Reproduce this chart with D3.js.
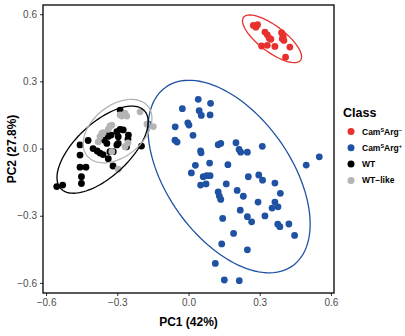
<!DOCTYPE html>
<html>
<head>
<meta charset="utf-8">
<script src="https://cdn.jsdelivr.net/npm/d3@7"></script>
<style>
  body { margin: 0; background: #fff; }
  text { font-family: "Liberation Sans", Arial, sans-serif; }
</style>
</head>
<body>
<div id="chart"></div>
<script>
// class names, in legend order
var CLASSES = ['CamSArg-', 'CamSArg+', 'WT', 'WT-like'];
var CLASS_COLORS = ['#e8302c', '#1f52a3', '#000000', '#b4b4b4'];

var X_TICKS = [-0.6, -0.3, 0.0, 0.3, 0.6];
var Y_TICKS = [-0.6, -0.3, 0.0, 0.3, 0.6];

// PC scores, [PC1, PC2]
var RED_POINTS = [
    [0.273, 0.550], [0.284, 0.542], [0.291, 0.553], [0.322, 0.520], [0.332, 0.508],
    [0.340, 0.493], [0.347, 0.488], [0.392, 0.517], [0.399, 0.502], [0.395, 0.490],
    [0.402, 0.483], [0.308, 0.458], [0.332, 0.461], [0.364, 0.456], [0.427, 0.453],
    [0.409, 0.408]
];
var BLUE_POINTS = [
    [0.041, 0.220], [0.093, 0.202], [-0.026, 0.178], [0.045, 0.169], [0.054, 0.148],
    [0.091, 0.150], [-0.003, 0.115], [0.002, 0.105], [-0.056, 0.097], [0.019, 0.059],
    [-0.057, 0.037], [-0.048, 0.029], [0.125, 0.017], [0.136, 0.023], [0.200, 0.026],
    [0.213, -0.004], [0.220, -0.016], [0.248, -0.016], [0.311, 0.010], [0.051, -0.011],
    [0.053, -0.019], [0.551, -0.037], [0.496, -0.074], [0.089, -0.065], [0.166, -0.072],
    [0.029, -0.075], [0.012, -0.109], [0.062, -0.126], [0.077, -0.121], [0.091, -0.121],
    [0.051, -0.163], [0.074, -0.158], [0.159, -0.158], [0.252, -0.126], [0.296, -0.118],
    [0.312, -0.141], [0.364, -0.154], [0.125, -0.194], [0.130, -0.212], [0.136, -0.227],
    [0.205, -0.187], [0.231, -0.213], [0.387, -0.200], [0.293, -0.239], [0.364, -0.239],
    [0.377, -0.260], [0.352, -0.266], [0.218, -0.275], [0.144, -0.312], [0.248, -0.304],
    [0.266, -0.327], [0.322, -0.301], [0.376, -0.338], [0.385, -0.349], [0.423, -0.337],
    [0.447, -0.388], [0.190, -0.379], [0.140, -0.426], [0.248, -0.452], [0.113, -0.513],
    [0.151, -0.587], [0.214, -0.590], [-0.168, 0.109]
];
var BLACK_POINTS = [
    [-0.555, -0.170], [-0.530, -0.163], [-0.451, -0.156], [-0.451, -0.126], [-0.457, -0.083],
    [-0.432, -0.083], [-0.457, -0.029], [-0.457, 0.016], [-0.423, 0.036], [-0.402, 0.000],
    [-0.385, -0.011], [-0.373, -0.020], [-0.360, -0.027], [-0.344, 0.068], [-0.338, 0.054],
    [-0.326, 0.060], [-0.302, 0.075], [-0.296, 0.053], [-0.288, 0.086], [-0.275, 0.083],
    [-0.331, -0.014], [-0.317, -0.014], [-0.302, 0.016], [-0.296, 0.023], [-0.338, -0.045],
    [-0.318, -0.078], [-0.261, 0.008], [-0.255, 0.042], [-0.253, 0.060], [-0.288, 0.172],
    [-0.281, 0.157], [-0.198, 0.011], [-0.344, 0.023], [-0.356, 0.038]
];
var GREY_POINTS = [
    [-0.380, 0.030], [-0.365, 0.068], [-0.373, 0.053], [-0.359, 0.071], [-0.338, 0.086],
    [-0.331, 0.100], [-0.323, 0.105], [-0.288, 0.150], [-0.281, 0.145], [-0.267, 0.157],
    [-0.260, 0.145], [-0.204, 0.164], [-0.148, 0.098], [-0.267, 0.008], [-0.323, -0.014],
    [-0.296, -0.092], [-0.175, 0.109], [-0.255, 0.025]
];

// 95% ellipses: centre and the two semi-axis vectors, in PC units
var ELLIPSE_CENTERS = [[0.352, 0.490], [0.171, -0.125], [-0.362, -0.005], [-0.299, 0.078]];
var ELLIPSE_AXIS_A = [[0.120, -0.096], [0.267, -0.399], [0.176, 0.174], [0.128, 0.111]];
var ELLIPSE_AXIS_B = [[-0.033, -0.046], [-0.213, -0.160], [0.077, -0.087], [0.068, -0.088]];

var POINT_SETS = [RED_POINTS, BLUE_POINTS, BLACK_POINTS, GREY_POINTS];

var W = 405, H = 336;
var M = {top: 5, right: 71, bottom: 43, left: 43};
var PW = W - M.left - M.right, PH = H - M.top - M.bottom;

var svg = d3.select('#chart').append('svg')
    .attr('width', W)
    .attr('height', H);

var x = d3.scaleLinear().domain([-0.613, 0.613]).range([0, PW]);
var y = d3.scaleLinear().domain([-0.645, 0.641]).range([PH, 0]);

var g = svg.append('g')
    .attr('transform', 'translate(' + M.left + ',' + M.top + ')');

// axes
var xAxis = g.append('g')
    .attr('transform', 'translate(0,' + PH + ')')
    .call(d3.axisBottom(x).tickValues(X_TICKS).tickSize(3).tickPadding(3)
        .tickFormat(d3.format('.1f')));
var yAxis = g.append('g')
    .call(d3.axisLeft(y).tickValues(Y_TICKS).tickSize(3).tickPadding(3)
        .tickFormat(d3.format('.1f')));
[xAxis, yAxis].forEach(function(a) {
    a.select('.domain').remove();
    a.selectAll('line').attr('stroke', '#333').attr('stroke-width', 1);
    a.selectAll('text')
        .style('font-size', '10px')
        .attr('fill', '#4d4d4d')
        .text(function(d) { return d3.format('.1f')(d).replace('-', '\u2212'); });
});

// points
POINT_SETS.forEach(function(pts, i) {
    g.append('g').selectAll('circle')
        .data(pts)
        .enter()
        .append('circle')
            .attr('cx', function(d) { return x(d[0]); })
            .attr('cy', function(d) { return y(d[1]); })
            .attr('r', 3.4)
            .attr('fill', CLASS_COLORS[i]);
});

// ellipses
var line = d3.line()
    .x(function(d) { return x(d[0]); })
    .y(function(d) { return y(d[1]); })
    .curve(d3.curveLinearClosed);

ELLIPSE_CENTERS.forEach(function(c, i) {
    var a = ELLIPSE_AXIS_A[i], b = ELLIPSE_AXIS_B[i];
    var pts = d3.range(0, 2 * Math.PI, Math.PI / 60).map(function(t) {
        return [c[0] + a[0] * Math.cos(t) + b[0] * Math.sin(t),
                c[1] + a[1] * Math.cos(t) + b[1] * Math.sin(t)];
    });
    g.append('path')
        .attr('d', line(pts))
        .attr('fill', 'none')
        .attr('stroke', CLASS_COLORS[i])
        .attr('stroke-width', 1.3);
});

// panel border
g.append('rect')
    .attr('width', PW)
    .attr('height', PH)
    .attr('fill', 'none')
    .attr('stroke', '#000')
    .attr('stroke-width', 1.3);

// axis titles
svg.append('text')
    .attr('x', M.left + PW / 2)
    .attr('y', 326)
    .attr('text-anchor', 'middle')
    .style('font-size', '12px')
    .style('font-weight', 'bold')
    .text('PC1 (42%)');
svg.append('text')
    .attr('transform', 'translate(16,' + (M.top + PH / 2) + ') rotate(-90)')
    .attr('text-anchor', 'middle')
    .style('font-size', '12px')
    .style('font-weight', 'bold')
    .text('PC2 (27.8%)');

// legend
var leg = svg.append('g').attr('transform', 'translate(343,0)');
leg.append('text')
    .attr('x', 0).attr('y', 117)
    .style('font-size', '12.5px')
    .style('font-weight', 'bold')
    .text('Class');

var LEGEND_LABELS = [
    ['Cam', 'S', 'Arg', '\u2212'],
    ['Cam', 'S', 'Arg', '+'],
    ['WT'],
    ['WT\u2212like']
];
CLASSES.forEach(function(c, i) {
    var yy = 131.5 + i * 16.3;
    leg.append('circle')
        .attr('cx', 8).attr('cy', yy)
        .attr('r', 3.5)
        .attr('fill', CLASS_COLORS[i]);
    var t = leg.append('text')
        .attr('x', 19).attr('y', yy + 3)
        .style('font-size', '8.5px')
        .style('font-weight', 'bold');
    var parts = LEGEND_LABELS[i];
    if (parts.length === 1) {
        t.text(parts[0]);
    } else {
        t.append('tspan').text(parts[0]);
        t.append('tspan').attr('dy', -3).style('font-size', '5.5px').text(parts[1]);
        t.append('tspan').attr('dy', 3).text(parts[2]);
        t.append('tspan').attr('dy', -3).style('font-size', '5.5px').text(parts[3]);
    }
});
</script>
</body>
</html>
